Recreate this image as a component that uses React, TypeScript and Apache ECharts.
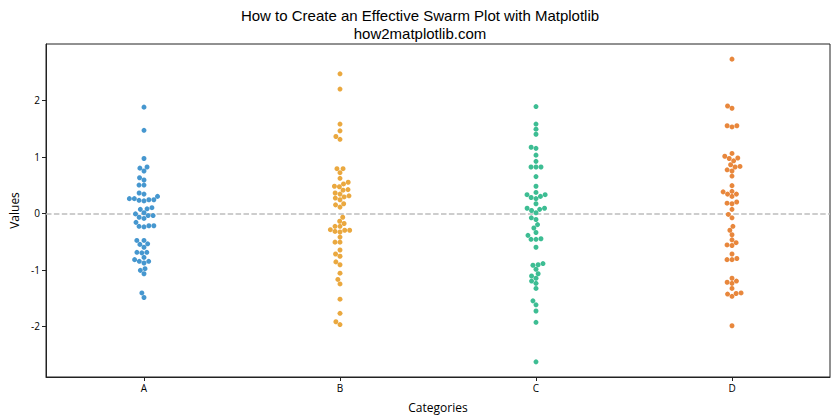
import React, { useEffect, useRef } from 'react';
import * as echarts from 'echarts';

const categories = ['A', 'B', 'C', 'D'];

const valuesA = [
  1.88, 1.47, 0.97, 0.80, 0.82, 0.75, 0.63, 0.59, 0.50, 0.50,
  0.36, 0.34, 0.30, 0.24, 0.23, 0.22, 0.24, 0.26, 0.26,
  0.10, 0.08, 0.07, 0.01, -0.01, -0.04, -0.04, -0.07, -0.09,
  -0.16, -0.23, -0.24, -0.22, -0.22, -0.48, -0.48, -0.55, -0.54,
  -0.60, -0.69, -0.70, -0.69, -0.78, -0.85, -0.88, -0.85, -0.82,
  -0.98, -1.01, -1.07, -1.41, -1.49,
];

const valuesB = [
  2.47, 2.20, 1.58, 1.46, 1.36, 1.31, 0.79, 0.79, 0.72, 0.62,
  0.55, 0.52, 0.48, 0.47, 0.42, 0.41, 0.36, 0.34, 0.31, 0.29,
  0.27, 0.24, 0.17, 0.15, 0.11, -0.07, -0.14, -0.18, -0.23, -0.23,
  -0.30, -0.32, -0.33, -0.30, -0.29, -0.42, -0.51, -0.51, -0.65,
  -0.72, -0.76, -0.86, -0.91, -1.06, -1.17, -1.25, -1.52, -1.77,
  -1.92, -1.97,
];

const valuesC = [
  1.89, 1.58, 1.49, 1.40, 1.17, 1.15, 1.03, 0.92, 0.82, 0.82,
  0.82, 0.65, 0.48, 0.37, 0.33, 0.30, 0.26, 0.28, 0.33, 0.17,
  0.09, 0.05, 0.07, 0.09, 0.01, -0.08, -0.11, -0.20, -0.26, -0.34,
  -0.39, -0.46, -0.46, -0.45, -0.60, -0.89, -0.91, -0.92, -0.99,
  -1.07, -1.11, -1.15, -1.20, -1.24, -1.33, -1.55, -1.62, -1.73,
  -1.93, -2.63,
];

const valuesD = [
  2.73, 1.90, 1.86, 1.55, 1.53, 1.55, 1.06, 1.01, 0.97, 0.93,
  0.98, 0.86, 0.82, 0.83, 0.77, 0.75, 0.66, 0.49, 0.38, 0.39,
  0.34, 0.30, 0.34, 0.18, 0.17, 0.20, 0.07, -0.02, -0.08, -0.23,
  -0.30, -0.38, -0.47, -0.52, -0.56, -0.57, -0.72, -0.80, -0.82,
  -0.82, -1.15, -1.20, -1.22, -1.24, -1.33, -1.41, -1.42, -1.43,
  -1.47, -1.99,
];

const seriesValues = [valuesA, valuesB, valuesC, valuesD];
const colors = ['#4697cf', '#eaa83f', '#3dbd93', '#e8873c'];
const yTicks = [-2, -1, 0, 1, 2];
const xTicks = [0, 1, 2, 3];
const titleLine1 = 'How to Create an Effective Swarm Plot with Matplotlib';
const titleLine2 = 'how2matplotlib.com';

const W = 840;
const H = 420;
const GRID = { left: 44, right: 10, top: 44, bottom: 43 };
const DOT = 5;

function beeswarm(values: number[], pxPerUnit: number, d: number): number[] {
  const order = values.map((_, i) => i).sort((a, b) => values[a] - values[b]);
  const placed: { x: number; y: number }[] = [];
  const offsets = new Array(values.length).fill(0);
  for (const idx of order) {
    const y = values[idx] * pxPerUnit;
    const neighbors = placed.filter((p) => Math.abs(p.y - y) < d);
    const cands: number[] = [0];
    for (const n of neighbors) {
      const dy = y - n.y;
      const dx = Math.sqrt(Math.max(d * d - dy * dy, 0));
      cands.push(n.x - dx, n.x + dx);
    }
    cands.sort((a, b) => Math.abs(a) - Math.abs(b));
    let chosen = cands[0];
    for (const c of cands) {
      const ok = neighbors.every((n) => (c - n.x) ** 2 + (y - n.y) ** 2 >= d * d - 1e-6);
      if (ok) {
        chosen = c;
        break;
      }
    }
    placed.push({ x: chosen, y });
    offsets[idx] = chosen;
  }
  return offsets;
}

export default function App() {
  const ref = useRef<HTMLDivElement>(null);
  useEffect(() => {
    if (!ref.current) return;
    const chart = echarts.init(ref.current, null, { renderer: 'svg' });
    const all = seriesValues.flat();
    const dMin = Math.min(...all);
    const dMax = Math.max(...all);
    const margin = (dMax - dMin) * 0.05;
    const yMin = dMin - margin;
    const yMax = dMax + margin;
    const plotH = H - GRID.top - GRID.bottom;
    const plotW = W - GRID.left - GRID.right;
    const pxPerY = plotH / (yMax - yMin);
    const xMin = -0.5;
    const xMax = categories.length - 0.5;
    const pxPerX = plotW / (xMax - xMin);

    const series: any[] = seriesValues.map((vals, i) => {
      const off = beeswarm(vals, pxPerY, DOT);
      return {
        type: 'scatter',
        name: categories[i],
        symbolSize: DOT,
        itemStyle: { color: colors[i], opacity: 1 },
        data: vals.map((v, j) => [i + off[j] / pxPerX, v]),
        z: 3,
      };
    });
    series[0].markLine = {
      silent: true,
      symbol: 'none',
      label: { show: false },
      lineStyle: { color: '#bdbdbd', type: [5.5, 2.4], width: 1.5 },
      data: [{ yAxis: 0 }],
      z: 1,
    };

    const font = 'Open Sans';
    const titleFont = 'Liberation Sans';
    chart.setOption({
      animation: false,
      textStyle: { fontFamily: font },
      title: {
        text: titleLine1 + '\n' + titleLine2,
        left: 'center',
        top: 6,
        padding: 0,
        textStyle: { fontSize: 15, fontWeight: 'normal', color: '#000', fontFamily: titleFont, lineHeight: 18 },
      },
      grid: {
        ...GRID,
        show: true,
        borderColor: '#222',
        borderWidth: 1,
        backgroundColor: 'transparent',
      },
      xAxis: {
        type: 'value',
        min: xMin,
        max: xMax,
        name: 'Categories',
        nameLocation: 'middle',
        nameGap: 24,
        nameTextStyle: { fontSize: 12, color: '#000', fontFamily: font },
        axisLine: { show: true, onZero: false, lineStyle: { color: '#222' } },
        axisTick: { show: true, length: 4, lineStyle: { color: '#222' }, customValues: xTicks },
        axisLabel: {
          customValues: xTicks,
          formatter: (v: number) => categories[Math.round(v)] ?? '',
          fontSize: 10,
          color: '#000',
          margin: 6,
          fontFamily: font,
        },
        splitLine: { show: false },
      },
      yAxis: {
        type: 'value',
        min: yMin,
        max: yMax,
        name: 'Values',
        nameLocation: 'middle',
        nameGap: 26,
        nameRotate: 90,
        nameTextStyle: { fontSize: 12, color: '#000', fontFamily: font },
        axisLine: { show: true, onZero: false, lineStyle: { color: '#222' } },
        axisTick: { show: true, length: 4, lineStyle: { color: '#222' }, customValues: yTicks },
        axisLabel: {
          customValues: yTicks,
          formatter: (v: number) => String(Math.round(v)),
          fontSize: 10,
          color: '#000',
          margin: 6,
          fontFamily: font,
        },
        splitLine: { show: false },
      },
      series,
    });
    return () => chart.dispose();
  }, []);
  return (
    <div
      ref={ref}
      style={{ position: 'absolute', left: 0, top: 0, width: W, height: H, background: '#fff' }}
    />
  );
}
